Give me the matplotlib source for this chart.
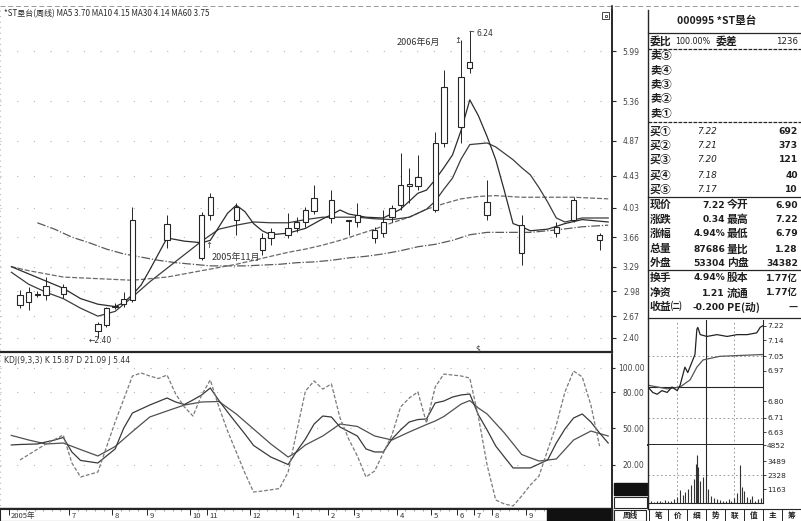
import matplotlib
matplotlib.use("Agg")
import matplotlib.pyplot as plt
import matplotlib.transforms as mtransforms
from matplotlib.patches import Rectangle
import numpy as np

plt.rcParams['font.family'] = ['Noto Sans CJK SC', 'DejaVu Sans']

# ---------------- data ----------------
bar_idx = [0, 1, 2, 3, 5, 9, 10, 11, 12, 13, 17, 21, 22, 25, 28, 29, 31, 32, 33, 34,
           36, 38, 39, 41, 42, 43, 44, 45, 46, 48, 49, 51, 52, 54, 58, 62, 64, 67]
opens = [2.81, 2.85, 2.94, 2.94, 2.95, 2.48, 2.56, 2.79, 2.82, 2.87, 3.62, 3.40, 3.94, 3.88, 3.50, 3.65, 3.69, 3.77, 3.85, 3.99,
         3.90, 3.86, 3.85, 3.65, 3.71, 3.91, 4.06, 4.30, 4.30, 4.00, 4.84, 5.04, 5.78, 3.94, 3.46, 3.71, 3.88, 3.62]
highs = [3.00, 3.04, 2.99, 3.16, 3.07, 2.60, 2.79, 2.84, 2.97, 4.04, 3.94, 3.98, 4.21, 4.09, 3.71, 3.77, 3.96, 3.91, 4.04, 4.31,
         4.25, 3.88, 4.09, 3.79, 4.00, 4.06, 4.71, 4.53, 4.69, 4.98, 5.75, 6.13, 6.24, 4.38, 3.94, 3.85, 4.16, 3.71]
lows = [2.77, 2.75, 2.91, 2.87, 2.90, 2.40, 2.53, 2.76, 2.79, 2.85, 3.52, 3.37, 3.88, 3.69, 3.44, 3.56, 3.65, 3.72, 3.79, 3.95,
        3.84, 3.69, 3.79, 3.59, 3.66, 3.85, 4.00, 4.09, 4.25, 3.98, 4.79, 4.84, 5.72, 3.88, 3.31, 3.66, 3.85, 3.50]
closes = [2.93, 2.97, 2.95, 3.05, 3.04, 2.57, 2.77, 2.80, 2.89, 3.88, 3.83, 3.94, 4.16, 4.04, 3.65, 3.72, 3.77, 3.85, 4.00, 4.15,
          4.13, 3.87, 3.94, 3.75, 3.85, 4.03, 4.31, 4.33, 4.41, 4.84, 5.54, 5.67, 5.86, 4.10, 3.81, 3.79, 4.13, 3.69]

ma5_idx = [-1, 1, 3, 5, 7, 9, 11, 12, 13, 14, 15, 17, 19, 21, 22, 24, 25, 26, 27, 28, 29, 31, 33, 35, 36, 37, 38, 40, 42, 44,
           46, 47, 48, 49, 50, 51, 52, 53, 54, 55, 56, 57, 58, 59, 61, 63, 65, 67, 68]
ma5_val = [3.29, 3.20, 3.11, 3.02, 2.89, 2.82, 2.79, 2.84, 2.94, 3.06, 3.25, 3.65, 3.61, 3.59, 3.62, 3.96, 4.06, 3.98, 3.83, 3.74,
           3.69, 3.71, 3.77, 3.89, 3.94, 4.00, 3.95, 3.91, 3.90, 4.01, 4.21, 4.25, 4.38, 4.53, 4.69, 5.00, 5.38, 5.18, 4.92, 4.63,
           4.24, 3.83, 3.79, 3.74, 3.76, 3.83, 3.88, 3.86, 3.85]
ma10_idx = [-1, 1, 3, 5, 7, 9, 11, 13, 15, 17, 19, 21, 23, 25, 27, 29, 31, 33, 35, 37, 39, 41, 43, 45, 47, 48, 49, 50, 51, 52,
            53, 54, 55, 56, 57, 58, 59, 60, 61, 62, 63, 65, 67, 68]
ma10_val = [3.22, 3.07, 2.97, 2.89, 2.77, 2.67, 2.73, 2.91, 3.10, 3.27, 3.44, 3.61, 3.76, 3.81, 3.85, 3.84, 3.84, 3.88, 3.91, 3.91,
            3.91, 3.89, 3.88, 3.91, 4.01, 4.11, 4.26, 4.40, 4.64, 4.82, 4.83, 4.84, 4.79, 4.71, 4.63, 4.53, 4.44, 4.28, 4.10, 3.90,
            3.85, 3.90, 3.90, 3.90]
ma30_idx = [-1, 1, 3, 5, 7, 9, 11, 13, 15, 17, 19, 21, 23, 25, 27, 29, 31, 33, 35, 37, 39, 41, 43, 45, 47, 49, 51, 53, 55, 58,
            61, 64, 66, 68]
ma30_val = [3.29, 3.24, 3.20, 3.16, 3.15, 3.14, 3.13, 3.12, 3.14, 3.16, 3.20, 3.24, 3.28, 3.32, 3.37, 3.42, 3.47, 3.51, 3.56, 3.62,
            3.69, 3.76, 3.84, 3.91, 4.01, 4.08, 4.14, 4.17, 4.18, 4.16, 4.16, 4.16, 4.15, 4.14]
ma60_idx = [2, 4, 6, 8, 10, 12, 14, 16, 18, 20, 22, 24, 26, 28, 30, 32, 34, 36, 38, 40, 42, 44, 46, 48, 50, 52, 54, 56, 59, 62,
            65, 68]
ma60_val = [3.84, 3.76, 3.66, 3.59, 3.51, 3.45, 3.41, 3.37, 3.34, 3.32, 3.30, 3.30, 3.30, 3.31, 3.32, 3.34, 3.35, 3.37, 3.40, 3.42,
            3.45, 3.49, 3.54, 3.57, 3.62, 3.69, 3.72, 3.72, 3.72, 3.75, 3.79, 3.81]

k_idx = [-1, 0, 2, 4, 5, 6, 7, 9, 10, 11, 12, 13, 15, 17, 18, 19, 20, 21, 22, 23, 24, 25, 26, 27, 29, 31, 32, 33, 34, 35,
         36, 37, 38, 39, 40, 41, 42, 43, 44, 45, 46, 47, 48, 49, 50, 51, 52, 53, 54, 55, 56, 57, 59, 61, 62, 63, 64, 65, 66, 67, 68]
k_val = [36.4, 36.8, 37.2, 40.5, 42.6, 30.6, 23.6, 21.5, 27.3, 33.1, 50.4, 62.8, 69.4, 75.2, 71.9, 69.8, 73.6, 77.7, 83.5, 73.1,
         63.6, 54.5, 45.5, 36.0, 26.4, 20.2, 31.4, 41.3, 53.7, 60.3, 59.5, 51.2, 47.5, 43.8, 33.1, 30.6, 30.6, 41.3, 48.8, 55.4,
         57.4, 57.9, 71.1, 72.7, 76.0, 77.7, 78.5, 61.2, 48.8, 35.5, 26.4, 17.4, 17.4, 24.0, 38.0, 49.6, 58.7, 62.0, 55.4, 46.3, 38.0]
d_idx = [-1, 1, 3, 5, 7, 9, 11, 13, 15, 17, 19, 21, 23, 25, 27, 29, 31, 32, 33, 35, 37, 39, 41, 43, 45, 47, 48, 49, 51, 52,
         53, 54, 56, 58, 60, 62, 64, 66, 68]
d_val = [44.3, 40.5, 37.2, 38.0, 32.6, 27.3, 35.1, 47.5, 59.5, 64.5, 69.4, 71.9, 72.3, 62.0, 49.6, 37.2, 26.4, 30.6, 36.4, 43.8,
         53.7, 51.7, 43.8, 40.5, 47.1, 53.3, 56.2, 59.9, 70.2, 73.1, 66.9, 62.0, 46.3, 28.5, 23.1, 24.8, 40.5, 47.9, 43.8]
j_idx = [0, 3, 5, 6, 7, 9, 10, 11, 12, 13, 14, 15, 16, 17, 18, 19, 20, 21, 22, 23, 24, 25, 26, 27, 28, 30, 31, 32, 33, 34,
         35, 36, 37, 38, 39, 40, 41, 42, 43, 44, 45, 46, 47, 48, 49, 50, 51, 52, 53, 54, 55, 56, 57, 58, 59, 60, 61, 62, 63, 64,
         65, 66, 67]
j_val = [24.0, 37.2, 44.6, 21.5, 9.9, 14.0, 34.7, 55.4, 74.4, 93.4, 95.9, 93.4, 91.3, 94.2, 78.5, 67.8, 60.3, 77.7, 90.1, 67.8,
         47.9, 30.6, 13.2, -2.5, -1.7, 0.4, 14.0, 47.9, 81.0, 89.3, 82.6, 86.8, 58.7, 41.3, 27.3, 9.9, 14.9, 29.8, 44.6, 67.8,
         75.2, 80.2, 54.5, 84.3, 95.0, 94.2, 93.4, 91.7, 59.5, 19.8, -9.1, -12.4, -14.0, -5.8, 3.3, 10.7, 32.2, 52.9, 80.2, 97.5,
         92.6, 69.4, 35.5]

price_ticks = [5.99, 5.36, 4.87, 4.43, 4.03, 3.66, 3.29, 2.98, 2.67, 2.40]
kdj_ticks = [100, 80, 50, 20]
month_bar = [-1, 6, 11, 15, 20, 22, 27, 32, 36, 39, 44, 48, 51, 53, 55, 59]
month_lbl = ["2005年", "7", "8", "9", "10", "11", "12", "1", "2", "3", "4", "5", "6", "7", "8", "9"]

# intraday (minutes from open)
min_t = [0, 10, 19, 29, 40, 50, 61, 67, 73, 77, 83, 92, 98, 102, 104, 109, 123, 144, 165, 186, 207, 227, 234, 240]
min_p = [6.88, 6.85, 6.84, 6.86, 6.85, 6.88, 6.86, 6.89, 6.95, 6.99, 6.96, 7.02, 7.06, 7.20, 7.21, 7.17, 7.16, 7.17, 7.16,
         7.17, 7.17, 7.18, 7.21, 7.22]
avg_t = [0, 40, 67, 88, 102, 115, 150, 240]
avg_p = [6.89, 6.87, 6.88, 6.92, 6.99, 7.03, 7.05, 7.06]
vol_t = [0, 6, 12, 18, 24, 30, 36, 42, 48, 54, 60, 66, 72, 78, 84, 90, 96, 100, 102, 104, 108, 114, 120, 126, 132, 138, 144,
         150, 156, 162, 168, 174, 180, 186, 192, 196, 200, 206, 212, 218, 224, 230, 236]
vol_v = [600, 150, 100, 200, 150, 100, 250, 200, 150, 300, 500, 1100, 700, 900, 1200, 1500, 2000, 3300, 4050, 3000, 1800,
         2200, 1100, 1200, 600, 400, 300, 250, 200, 150, 300, 200, 400, 800, 3200, 1300, 1000, 500, 300, 600, 200, 300, 400]
min_price_ticks = [7.22, 7.14, 7.05, 6.97, 6.80, 6.71, 6.63]
vol_ticks = [4852, 3489, 2328, 1163]

# ---------------- figure ----------------
W, H = 801, 521
fig = plt.figure(figsize=(W / 100, H / 100), dpi=100)
fig.patch.set_facecolor('white')
INK = '#262626'


def px_axes(x0, y0, x1, y1, **kw):
    return fig.add_axes([x0 / W, 1 - y1 / H, (x1 - x0) / W, (y1 - y0) / H], **kw)


XLIM = (-2.312, 68.44)

# ---- main price panel
ax = px_axes(0, 10, 612, 352)
ax.set_xlim(*XLIM)
ax.set_ylim(2.221, 6.506)
for s in ['top', 'left']:
    ax.spines[s].set_visible(False)
ax.spines['right'].set_color(INK)
ax.spines['right'].set_linewidth(1.2)
ax.spines['bottom'].set_color(INK)
ax.spines['bottom'].set_linewidth(1.6)
ax.set_xticks([])
ax.yaxis.tick_right()
ax.set_yticks(price_ticks)
ax.set_yticklabels([f"{v:.2f}" for v in price_ticks], fontsize=5.5, ha='right', family='DejaVu Sans')
ax.tick_params(axis='y', direction='out', length=3, width=0.8, pad=17, colors=INK, labelcolor='#444')
ax.grid(axis='y', color='#b5b5b5', linestyle=(0, (1, 14)), linewidth=0.8)

ax.plot(ma60_idx, ma60_val, color='#5a5a5a', lw=0.9, ls=(0, (7, 1.5, 1, 1.5)), zorder=2)
ax.plot(ma30_idx, ma30_val, color='#6a6a6a', lw=0.9, ls=(0, (4, 1.5)), zorder=2)
ax.plot(ma10_idx, ma10_val, color='#3c3c3c', lw=0.9, zorder=2)
ax.plot(ma5_idx, ma5_val, color='#2c2c2c', lw=0.9, zorder=2)

o = np.array(opens); c = np.array(closes); hi = np.array(highs); lo = np.array(lows)
bx = np.array(bar_idx)
blo = np.minimum(o, c); bhi = np.maximum(o, c)
ax.vlines(bx, lo, blo, color=INK, lw=0.7, zorder=3)
ax.vlines(bx, bhi, hi, color=INK, lw=0.7, zorder=3)
ax.bar(bx, np.maximum(bhi - blo, 0.01), bottom=blo, width=0.62, facecolor='white',
       edgecolor=INK, linewidth=0.8, zorder=4)

imax = int(np.argmax(hi)); imin = int(np.argmin(lo))
ax.annotate(f"{hi[imax]:.2f}", xy=(bx[imax], hi[imax]), xytext=(5, -1.5), textcoords='offset points',
            fontsize=5.5, family='DejaVu Sans', color='#333', ha='left', va='center',
            arrowprops=dict(arrowstyle='-', color='#333', lw=0.6, shrinkA=0, shrinkB=0))
ax.annotate(f"←{lo[imin]:.2f}", xy=(bx[imin], lo[imin]), xytext=(-7, -2), textcoords='offset points',
            fontsize=5.5, family='DejaVu Sans', color='#333', ha='left', va='center')
ax.annotate("2006年6月", xy=(bx[imax - 1], hi[imax - 1]), xytext=(-31, -2), textcoords='offset points',
            fontsize=6.5, color='#333', ha='center', va='center')
ax.text(50.6, 6.12, "↥", fontsize=6, color='#444', ha='center', va='center', family='DejaVu Sans')
ax.text(25.0, 3.40, "2005年11月", fontsize=6.5, color='#333', ha='center', va='center')
ax.text(21.8, 3.56, "↑", fontsize=6, color='#333', ha='center', va='center', family='DejaVu Sans')
ax.text(52.9, 2.255, "$", fontsize=5.5, color='#444', ha='center', va='center', family='DejaVu Sans')

# ---- KDJ panel
kx = px_axes(0, 355, 612, 508)
kx.set_xlim(*XLIM)
kx.set_ylim(-15.70, 110.74)
for s in ['top', 'left']:
    kx.spines[s].set_visible(False)
kx.spines['right'].set_color(INK)
kx.spines['right'].set_linewidth(1.2)
kx.spines['bottom'].set_color(INK)
kx.spines['bottom'].set_linewidth(1.0)
kx.set_xticks([])
kx.yaxis.tick_right()
kx.set_yticks(kdj_ticks)
kx.set_yticklabels([f"{v:.2f}" for v in kdj_ticks], fontsize=5.5, ha='right', family='DejaVu Sans')
kx.tick_params(axis='y', direction='out', length=2, width=0.8, pad=21.5, colors=INK, labelcolor='#444')
kx.grid(axis='y', color='#b5b5b5', linestyle=(0, (1, 14)), linewidth=0.8)
kx.plot(d_idx, d_val, color='#505050', lw=0.9)
kx.plot(k_idx, k_val, color='#3a3a3a', lw=0.9)
kx.plot(j_idx, j_val, color='#7a7a7a', lw=0.9, ls=(0, (3, 1.5)))
kx.text(0.006, 0.965, "KDJ(9,3,3) K 15.87 D 21.09 J 5.44", transform=kx.transAxes, fontsize=5.5,
        color='#333', ha='left', va='center', family='DejaVu Sans')

# ---- date strip
dax = px_axes(0, 509, 612, 521)
dax.set_xlim(*XLIM)
dax.set_ylim(0, 1)
dax.set_yticks([])
for s in dax.spines.values():
    s.set_color(INK); s.set_linewidth(0.8)
dax.xaxis.tick_top()
dax.set_xticks([b - 0.5 for b in month_bar])
dax.set_xticks(np.arange(-2, 69, 1) - 0.5, minor=True)
dax.tick_params(axis='x', which='major', direction='in', length=4, width=0.7, colors=INK, labeltop=False)
dax.tick_params(axis='x', which='minor', direction='in', length=1.5, width=0.5, colors='#777')
trans = mtransforms.offset_copy(mtransforms.blended_transform_factory(dax.transData, dax.transAxes),
                                fig=fig, x=2.5, y=0, units='dots')
for b, lbl in zip(month_bar, month_lbl):
    dax.text(b - 0.5, 0.45, lbl, transform=trans, fontsize=5.5, color='#333', ha='left', va='center')

# ---- intraday price
mp = px_axes(648, 320, 763, 445)
mp.set_xlim(0, 240)
mp.set_ylim(6.559, 7.251)
mp.spines['top'].set_visible(False)
mp.spines['left'].set_visible(False)
mp.spines['right'].set_color(INK)
mp.spines['bottom'].set_color(INK)
mp.spines['bottom'].set_linewidth(1.4)
mp.set_xticks([])
mp.yaxis.tick_right()
mp.set_yticks(min_price_ticks)
mp.set_yticklabels([f"{v:.2f}" for v in min_price_ticks], fontsize=5.3, family='DejaVu Sans')
for t, v in zip(mp.get_yticklabels(), min_price_ticks):
    t.set_color('#333' if v > 6.9 else '#999')
mp.tick_params(axis='y', direction='out', length=2, width=0.6, pad=1, colors=INK)
mp.axhline(6.88, color=INK, lw=0.8)
mp.axhline(7.05, color='#888', lw=0.6, ls=(0, (2, 3)))
mp.axhline(6.71, color='#888', lw=0.6, ls=(0, (2, 3)))
mp.axvline(120, color=INK, lw=0.8)
mp.axvline(60, color='#888', lw=0.6, ls=(0, (2, 3)))
mp.axvline(180, color='#888', lw=0.6, ls=(0, (2, 3)))
mp.plot(avg_t, avg_p, color='#555', lw=0.9)
mp.plot(min_t, min_p, color='#222', lw=0.9)

# ---- intraday volume
mv = px_axes(648, 445, 763, 503)
mv.set_xlim(0, 240)
mv.set_ylim(0, 4852)
mv.spines['top'].set_visible(False)
mv.spines['left'].set_visible(False)
mv.spines['right'].set_color(INK)
mv.spines['bottom'].set_color(INK)
mv.set_xticks([])
mv.yaxis.tick_right()
mv.set_yticks(vol_ticks)
mv.set_yticklabels([str(v) for v in vol_ticks], fontsize=5.3, color='#333', family='DejaVu Sans')
mv.tick_params(axis='y', direction='out', length=2, width=0.6, pad=1, colors=INK)
mv.axhline(2328, color='#888', lw=0.6, ls=(0, (2, 3)))
mv.axvline(120, color=INK, lw=0.8)
mv.axvline(60, color='#888', lw=0.6, ls=(0, (2, 3)))
mv.axvline(180, color='#888', lw=0.6, ls=(0, (2, 3)))
mv.vlines(vol_t, 0, vol_v, color='#333', lw=0.8)

# ---- overlay for frames & info panel
ov = fig.add_axes([0, 0, 1, 1], zorder=10)
ov.set_xlim(0, W)
ov.set_ylim(H, 0)
ov.axis('off')
ov.patch.set_alpha(0)

ov.plot([0, W], [6, 6], color='#9a9a9a', lw=0.7, ls=(0, (5, 3)))
ov.plot([612, 612], [6, H], color=INK, lw=1.2)
ov.plot([648, 648], [10, 509], color=INK, lw=1.0)
ov.plot([0, 0], [10, 509], color='#bbbbbb', lw=0.8, ls=(0, (1, 4)))

ov.text(4, 14, "*ST垦台(周线) MA5 3.70 MA10 4.15 MA30 4.14 MA60 3.75", fontsize=5.8, color='#2a2a2a',
        ha='left', va='center')
ov.add_patch(Rectangle((602, 12), 7, 7, fill=False, edgecolor='#444', lw=0.7))
ov.add_patch(Rectangle((604.5, 14.5), 2, 2, fill=False, edgecolor='#444', lw=0.6))

# KDJ label-column boxes
ov.add_patch(Rectangle((614, 483), 33, 12, facecolor='#111', edgecolor='#111'))
ov.add_patch(Rectangle((614, 497), 33, 11, facecolor='white', edgecolor=INK, lw=0.8))

# bottom strip
ov.add_patch(Rectangle((547, 509), 65, 12, facecolor='#111', edgecolor='#111'))
ov.add_patch(Rectangle((614, 510), 32, 11, facecolor='white', edgecolor=INK, lw=0.8))
ov.text(630, 515.5, "周线", fontsize=5.5, color='#222', ha='center', va='center', fontweight='bold')
tabs = ["笔", "价", "细", "势", "联", "值", "主", "筹"]
tw = (W - 649) / len(tabs)
ov.plot([648, W], [509, 509], color=INK, lw=0.8)
for n, t in enumerate(tabs):
    x0 = 649 + n * tw
    ov.plot([x0, x0], [509, H], color=INK, lw=0.7)
    ov.text(x0 + tw / 2, 515.5, t, fontsize=5.5, color='#222', ha='center', va='center', fontweight='bold')

# info panel lines
for y, ls in [(33, '-'), (49, (0, (3, 1))), (122, (0, (3, 1))), (197, '-'), (270, '-'), (318, '-')]:
    ov.plot([648, W], [y, y], color=INK, lw=0.9, ls=ls)

TXT = dict(fontsize=7.8, color='#1e1e1e', va='center', fontweight='bold')
NUM = dict(fontsize=6.6, color='#1e1e1e', va='center', fontweight='bold', family=['DejaVu Sans', 'Noto Sans CJK SC'])
ov.text(717, 21, "000995 *ST垦台", ha='center', fontsize=7.6, color='#1e1e1e', va='center', fontweight='bold')
ov.text(650, 41, "委比", ha='left', **TXT)
ov.text(675, 41, "100.00%", ha='left', fontsize=5.8, color='#1e1e1e', va='center', family='DejaVu Sans')
ov.text(716, 41, "委差", ha='left', **TXT)
ov.text(798, 41, "1236", ha='right', fontsize=6.2, color='#1e1e1e', va='center', family='DejaVu Sans')

sell_lbl = ["卖⑤", "卖④", "卖③", "卖②", "卖①"]
sell_y = [56, 71, 85, 99, 114]
for lbl, y in zip(sell_lbl, sell_y):
    ov.text(650, y, lbl, ha='left', **TXT)

buy_lbl = ["买①", "买②", "买③", "买④", "买⑤"]
buy_price = [7.22, 7.21, 7.20, 7.18, 7.17]
buy_vol = [692, 373, 121, 40, 10]
buy_y = [131, 146, 160, 175, 190]
for lbl, p, v, y in zip(buy_lbl, buy_price, buy_vol, buy_y):
    ov.text(650, y, lbl, ha='left', **TXT)
    ov.text(717, y, f"{p:.2f}", ha='right', fontsize=6.4, color='#1e1e1e', va='center', style='italic',
            family='DejaVu Sans')
    ov.text(798, y, str(v), ha='right', **NUM)

stats = [("现价", "7.22", "今开", "6.90"), ("涨跌", "0.34", "最高", "7.22"), ("涨幅", "4.94%", "最低", "6.79"),
         ("总量", "87686", "量比", "1.28"), ("外盘", "53304", "内盘", "34382"),
         ("换手", "4.94%", "股本", "1.77亿"), ("净资", "1.21", "流通", "1.77亿"), ("收益㈡", "-0.200", "PE(动)", "—")]
stats_y = [205, 220, 234, 249, 263, 278, 293, 307]
for (a, b, cc, d), y in zip(stats, stats_y):
    ov.text(650, y, a, ha='left', **TXT)
    ov.text(725, y, b, ha='right', **NUM)
    ov.text(727, y, cc, ha='left', **TXT)
    ov.text(798, y, d, ha='right', **NUM)

fig.savefig("out.png", dpi=100)
